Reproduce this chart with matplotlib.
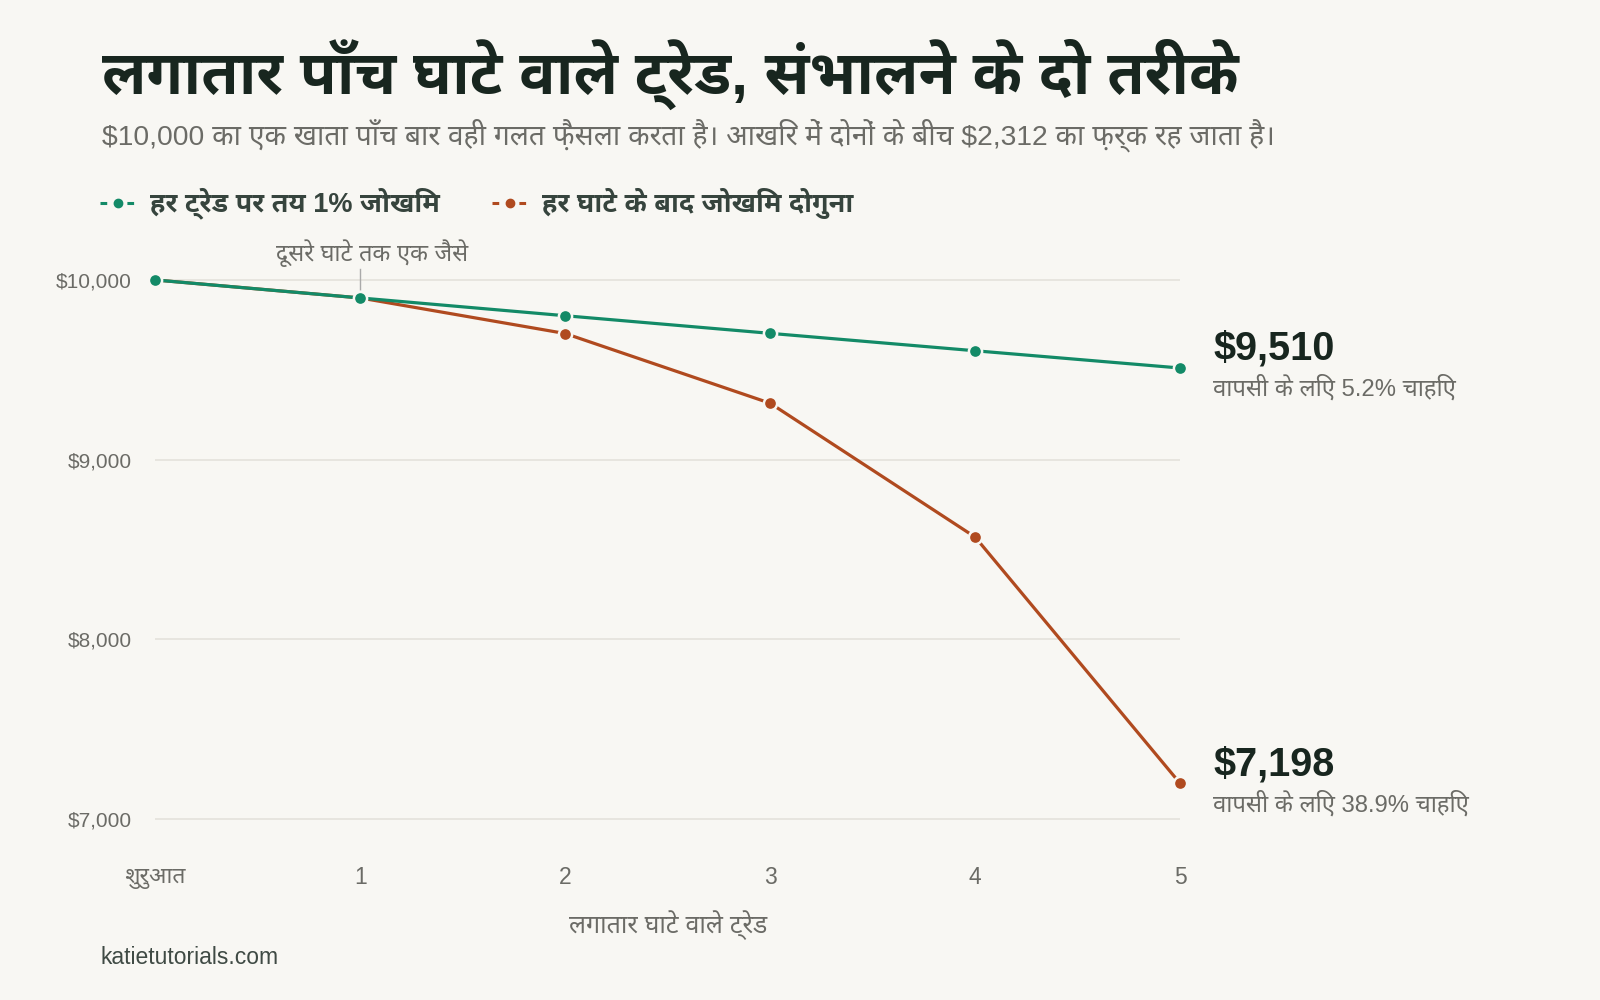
import matplotlib
matplotlib.use("Agg")
import matplotlib.pyplot as plt
from matplotlib import font_manager

# data
steps = [0, 1, 2, 3, 4, 5]
step_labels = ["शुरुआत", "1", "2", "3", "4", "5"]
fixed_risk = [10000, 9900, 9801, 9703, 9606, 9510]
double_risk = [10000, 9900, 9702, 9314, 8569, 7198]
y_ticks = [7000, 8000, 9000, 10000]
y_tick_labels = [r"\$7,000", r"\$8,000", r"\$9,000", r"\$10,000"]
fixed_name = "हर ट्रेड पर तय 1% जोखिम"
double_name = "हर घाटे के बाद जोखिम दोगुना"
fixed_end = [r"\$9,510", "वापसी के लिए 5.2% चाहिए"]
double_end = [r"\$7,198", "वापसी के लिए 38.9% चाहिए"]

GREEN = "#138a67"
ORANGE = "#b04a1f"
BG = "#f8f7f3"
DARK = "#18261f"
GRAY = "#6b6b66"

# Latin in Liberation Sans, Devanagari from a Noto family
installed = {f.name for f in font_manager.fontManager.ttflist}
dev = [n for n in ["Noto Sans Devanagari UI", "Noto Sans Devanagari", "Hind", "Anek Devanagari"]
       if n in installed][:1]
plt.rcParams["font.family"] = ["Liberation Sans"] + dev + ["DejaVu Sans"]

fig = plt.figure(figsize=(16, 10), dpi=100, facecolor=BG)
ax = fig.add_axes([0.097, 0.163, 0.6406, 0.575], facecolor=BG)

ax.plot(steps, fixed_risk, color=GREEN, lw=2.3, marker="o", ms=9.5,
        markeredgecolor=BG, markeredgewidth=1.8, clip_on=False, zorder=4)
ax.plot(steps, double_risk, color=ORANGE, lw=2.3, marker="o", ms=9.5,
        markeredgecolor=BG, markeredgewidth=1.8, clip_on=False, zorder=3)

ax.set_xlim(0, 5)
ax.set_ylim(6900, 10100)
ax.set_yticks(y_ticks)
ax.set_yticklabels(y_tick_labels)
ax.set_xticks(steps)
ax.set_xticklabels(step_labels)
ax.tick_params(axis="y", length=0, pad=17, labelsize=15, labelcolor=GRAY)
ax.tick_params(axis="x", length=0, pad=21, labelsize=16.5, labelcolor=GRAY)
ax.grid(axis="y", color="#e4e2dc", lw=1.2)
for s in ax.spines.values():
    s.set_visible(False)
ax.set_xlabel("लगातार घाटे वाले ट्रेड", fontsize=18, color=GRAY, labelpad=15)

# annotation at first loss
ax.text(1.06, 10150, "दूसरे घाटे तक एक जैसे", ha="center", va="center",
        fontsize=17, color=GRAY, clip_on=False)
ax.plot([1, 1], [fixed_risk[1] + 40, 10060], color="#aaaaaa", lw=1, zorder=2, clip_on=False)

# end labels
for vals, lab in [(fixed_risk, fixed_end), (double_risk, double_end)]:
    ax.annotate(lab[0], xy=(5, vals[-1]), xytext=(24, 14), textcoords="offset points",
                fontsize=28.5, fontweight="bold", color=DARK, va="center", annotation_clip=False)
    ax.annotate(lab[1], xy=(5, vals[-1]), xytext=(24, -14), textcoords="offset points",
                fontsize=17.2, color=GRAY, va="center", annotation_clip=False)

# title, subtitle
fig.text(0.064, 0.926, "लगातार पाँच घाटे वाले ट्रेड, संभालने के दो तरीके",
         fontsize=43.5, fontweight="bold", color=DARK, va="center")
fig.text(0.064, 0.865, r"\$10,000 का एक खाता पाँच बार वही गलत फ़ैसला करता है। आखिर में दोनों के बीच \$2,312 का फ़र्क रह जाता है।",
         fontsize=20.3, color=GRAY, va="center")

# legend drawn by hand in figure coords
for x0, color, name in [(0.0625, GREEN, fixed_name), (0.3075, ORANGE, double_name)]:
    fig.add_artist(plt.Line2D([x0, x0 + 0.022], [0.797, 0.797], transform=fig.transFigure,
                              color=color, lw=2.2, ls=(0, (2.2, 2.2))))
    fig.add_artist(plt.Line2D([x0 + 0.011], [0.797], transform=fig.transFigure,
                              color=color, marker="o", ms=6, ls="none"))
    fig.text(x0 + 0.031, 0.797, name, fontsize=19.5, fontweight="bold",
             color="#36443d", va="center")

fig.text(0.0625, 0.043, "katietutorials.com", fontsize=16.5, color="#3f4a44", va="center")

fig.savefig("out.png", dpi=100, facecolor=BG)
